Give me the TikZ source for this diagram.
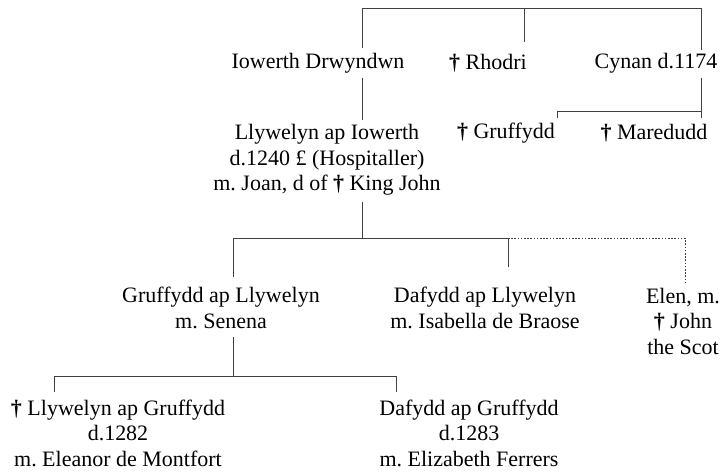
\documentclass[tikz,border=0pt]{standalone}
\usepackage{fontspec}
\setmainfont{Liberation Serif}
\frenchspacing
\newcommand{\dg}{{\bfseries †}}
\tikzset{
	person/.style={align=center, inner sep=0pt, font=\fontsize{22}{25.5}\selectfont},
	kin/.style={line width=0.9pt, draw=black!75},
	kinmaybe/.style={kin, dash pattern=on 1.6pt off 1.6pt},
}
\begin{document}
\begin{tikzpicture}[x=1pt,y=-1pt]
	\useasboundingbox (0,0) rectangle (724,472);
	
	% First generation
	\node[person] (iowerth) at (318,63) {Iowerth Drwyndwn};
	\node[person] (rhodri) at (488,63) {\dg{} Rhodri};
	\node[person] (cynan) at (656,63) {Cynan d.1174};
	
	% Second generation
	\node[person] (llywelyn) at (327,160) {Llywelyn ap Iowerth\\d.1240 £ (Hospitaller)\\m. Joan, d of \dg{} King John};
	\node[person] (gruffydd) at (506,133) {\dg{} Gruffydd};
	\node[person] (maredudd) at (654,133) {\dg{} Maredudd};
	
	% Third generation
	\node[person] (gruffyddL) at (221,308) {Gruffydd ap Llywelyn\\m. Senena};
	\node[person] (dafyddL) at (485,308) {Dafydd ap Llywelyn\\m. Isabella de Braose};
	\node[person] (elen) at (683,321) {Elen, m.\\\dg{} John\\the Scot};
	
	% Fourth generation
	\node[person] (llywelynG) at (118,433) {\dg{} Llywelyn ap Gruffydd\\d.1282\\m. Eleanor de Montfort};
	\node[person] (dafyddG) at (469,433) {Dafydd ap Gruffydd\\d.1283\\m. Elizabeth Ferrers};
	
	% Line ends
	\coordinate (iw-up) at (362,48);
	\coordinate (rh-up) at (524,42);
	\coordinate (cy-up) at (701,50);
	\coordinate (bar1a) at (362,8);
	\coordinate (bar1b) at (701,8);
	\coordinate (iw-dn) at (362,78);
	\coordinate (ll-up) at (362,120);
	\coordinate (cy-dn) at (701,78);
	\coordinate (ma-up) at (701,118);
	\coordinate (gr-up) at (557,118);
	\coordinate (bar2) at (701,111);
	\coordinate (ll-dn) at (362,202);
	\coordinate (bar3) at (362,238);
	\coordinate (bar3e) at (508,238);
	\coordinate (gl-up) at (233,277);
	\coordinate (da-up) at (508,267);
	\coordinate (el-up) at (685,282);
	\coordinate (gl-dn) at (233,337);
	\coordinate (bar4) at (233,376);
	\coordinate (bar4e) at (396,376);
	\coordinate (lg-up) at (54,392);
	\coordinate (dg-up) at (396,392);
	
	% Sons of the first line
	\draw[kin] (iw-up) -- (bar1a) -- (bar1b) -- (cy-up);
	\draw[kin] (rh-up) -- (rh-up |- bar1a);
	
	% Iowerth and Cynan
	\draw[kin] (iw-dn) -- (ll-up);
	\draw[kin] (cy-dn) -- (ma-up);
	\draw[kin] (gr-up) |- (bar2);
	
	% Children of Llywelyn
	\draw[kin] (ll-dn) -- (bar3);
	\draw[kin] (gl-up) |- (bar3e) -- (da-up);
	\draw[kinmaybe] (bar3e) -| (el-up);
	
	% Children of Gruffydd
	\draw[kin] (gl-dn) -- (bar4);
	\draw[kin] (lg-up) |- (bar4e) -- (dg-up);
\end{tikzpicture}
\end{document}
